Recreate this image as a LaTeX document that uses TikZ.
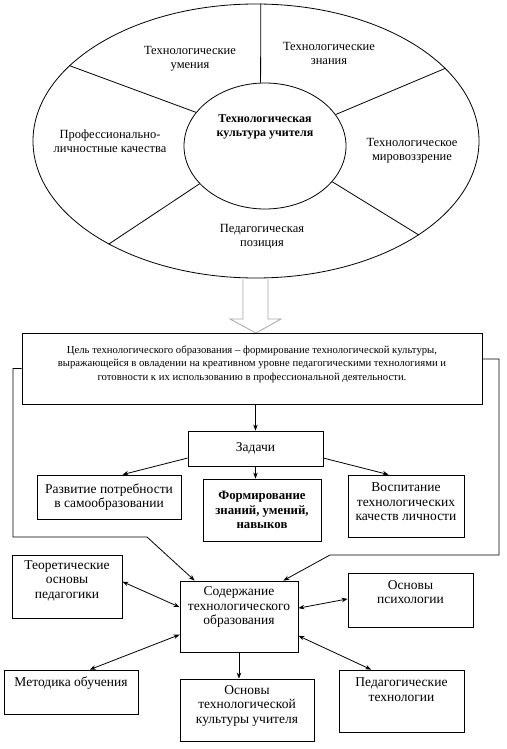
\documentclass[tikz,border=0pt]{standalone}
\usepackage{fontspec}
\setmainfont{Liberation Serif}
\usetikzlibrary{shapes.geometric,arrows.meta}
\tikzset{>={Stealth[length=6pt,width=4.5pt]}}
\tikzset{
  box/.style={draw, line width=0.8pt, align=center, inner sep=2pt, font=\fontsize{13.5}{14.5}\selectfont},
  lift/.style={text depth=#1},
  sector/.style={align=center, font=\fontsize{12.5}{14}\selectfont},
  link/.style={->, line width=0.8pt},
  twoway/.style={<->, line width=0.8pt}
}

\begin{document}
\begin{tikzpicture}[x=1pt,y=-1pt]
            \useasboundingbox (0,0) rectangle (506,749);

            % Draw the rings
            \node[draw, ellipse, line width=0.8pt, minimum width=446pt, minimum height=274pt] (ring) at (256,141) {};
            \node[draw, ellipse, line width=0.8pt, minimum width=162pt, minimum height=126pt, align=center,
                  font=\bfseries\fontsize{12}{14}\selectfont, lift=41pt] (cult) at (265,146) {Технологическая\\культура учителя};

            % Draw the spokes
            \draw[line width=0.8pt] (cult.94.5) -- (ring.88.3);
            \draw[line width=0.8pt] (cult.154.8) -- (ring.158.3);
            \draw[line width=0.8pt] (cult.24.6) -- (ring.21.9);
            \draw[line width=0.8pt] (cult.210.8) -- (ring.215.5);
            \draw[line width=0.8pt] (cult.332.8) -- (ring.330.2);

            % Add sector labels
            \node[sector] (umen) at (190,59) {Технологические\\умения};
            \node[sector] (znan) at (329,53) {Технологические\\знания};
            \node[sector] (prof) at (110,141) {Профессионально-\\личностные качества};
            \node[sector] (mirov) at (412,151) {Технологическое\\мировоззрение};
            \node[sector] (pozic) at (262,237) {Педагогическая\\позиция};

            % Draw the hollow arrow
            \filldraw[draw=gray!70, fill=white, line width=0.8pt]
                (243,279) -- (243,319) -- (230,319) -- (256,333) -- (281,319) -- (268,319) -- (268,279);

            % Goal and tasks
            \node[box, font=\fontsize{10.7}{13.5}\selectfont, minimum width=460pt, minimum height=71pt, lift=11pt] (goal) at (252,368.5)
                {Цель технологического образования – формирование технологической культуры,\\выражающейся в овладении на креативном уровне педагогическими технологиями и\\готовности к их использованию в профессиональной деятельности.};
            \node[box, minimum width=135pt, minimum height=35pt] (zad) at (255.5,448.5) {Задачи};
            \node[box, minimum width=144pt, minimum height=44pt] (razv) at (109,497) {Развитие потребности\\в самообразовании};
            \node[box, minimum width=118pt, minimum height=62pt, font=\bfseries\fontsize{12.8}{14.5}\selectfont] (form) at (262,510) {Формирование\\знаний, умений,\\навыков};
            \node[box, minimum width=116pt, minimum height=62pt, lift=8pt] (vosp) at (406,506) {Воспитание\\технологических\\качеств личности};

            % Content and its sources
            \node[box, minimum width=118pt, minimum height=71pt, lift=21pt] (sod) at (239,616.5) {Содержание\\технологического\\образования};
            \node[box, minimum width=110pt, minimum height=63pt, lift=14pt] (teor) at (67,586.5) {Теоретические\\основы\\педагогики};
            \node[box, minimum width=125pt, minimum height=54pt, lift=16pt] (psych) at (410.5,600) {Основы\\психологии};
            \node[box, minimum width=134pt, minimum height=44pt, lift=21pt] (metod) at (71,692) {Методика обучения};
            \node[box, minimum width=134pt, minimum height=62pt, lift=11pt] (osn) at (247,710) {Основы\\технологической\\культуры учителя};
            \node[box, minimum width=125pt, minimum height=62pt, lift=23pt] (ped) at (401.5,701) {Педагогические\\технологии};

            % Side feeds from the goal
            \coordinate (lbend) at (13,537);
            \coordinate (lknee) at (147,537);
            \coordinate (rbend) at (499,555);
            \coordinate (rknee) at (330,555);
            \draw[link] (goal.west) -| (lbend) -- (lknee) -- (sod.141);
            \draw[link] ([yshift=9.5pt]goal.east) -| (rbend) -- (rknee) -- (sod.39);

            % Task arrows
            \draw[link] (zad.north |- goal.south) -- (zad.north);
            \draw[link] (zad.south) -- (zad.south |- form.north);
            \draw[link] (zad.188) -- (razv.59);
            \draw[link] (zad.352) -- (vosp.119);

            % Content arrows
            \draw[twoway] (teor.5) -- (sod.171);
            \draw[twoway] (sod.8) -- (psych.179);
            \draw[twoway] (metod.50) -- (sod.197);
            \draw[twoway] (sod.342) -- (ped.134);
            \draw[link] (sod.south) -- (sod.south |- osn.north);
\end{tikzpicture}
\end{document}
